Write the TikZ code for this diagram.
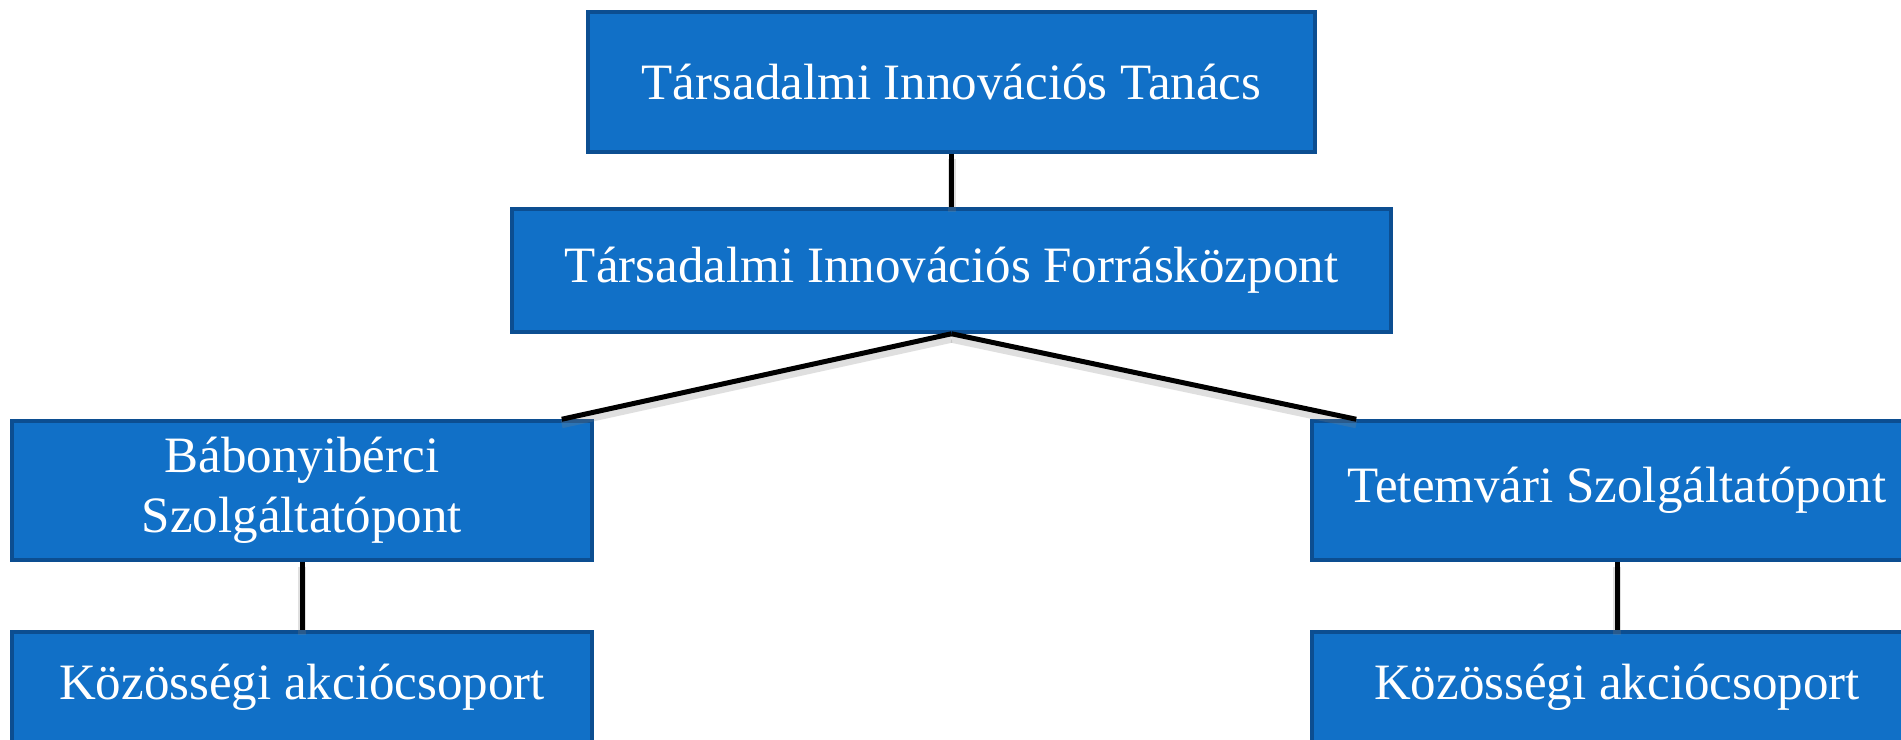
\documentclass[tikz,border=0pt]{standalone}
\usepackage{fontspec}
\setmainfont{Liberation Serif}
\usetikzlibrary{positioning}

\definecolor{orgfill}{RGB}{17,112,199}
\definecolor{orgedge}{RGB}{12,78,145}

\tikzset{
    orgbox/.style={draw=orgedge, fill=orgfill, line width=3.5pt, text=white,
        align=center, inner sep=0pt, font=\fontsize{51}{60}\selectfont},
    link/.style={line width=5pt, black,
        preaction={draw, gray, opacity=0.25, line width=8pt, transform canvas={yshift=-5pt}}}
}

\begin{document}
\begin{tikzpicture}[x=1pt, y=1pt]
    \useasboundingbox[fill=white] (0,0) rectangle (1901,-739);

    \node[orgbox, minimum width=727pt, minimum height=140pt] (tit) at (951.5,-82) {Társadalmi Innovációs Tanács};
    \node[orgbox, minimum width=879pt, minimum height=123pt] (tif) at (951.5,-270.5) {Társadalmi Innovációs Forrásközpont};
    \node[orgbox, minimum width=580pt, minimum height=139pt] (bsz) at (302,-490.5) {Bábonyibérci\\Szolgáltatópont};
    \node[orgbox, minimum width=610pt, minimum height=139pt] (tsz) at (1617,-490.5) {Tetemvári Szolgáltatópont};
    \node[orgbox, minimum width=580pt, minimum height=110pt] (bkas) at (302,-687) {Közösségi akciócsoport};
    \node[orgbox, minimum width=610pt, minimum height=110pt] (tkas) at (1617,-687) {Közösségi akciócsoport};

    \coordinate (bszin) at ([xshift=-32pt]bsz.north east);
    \coordinate (tszin) at ([xshift=46pt]tsz.north west);

    \draw[link] (tit) -- (tif);
    \draw[link] (tif.south) -- (bszin);
    \draw[link] (tif.south) -- (tszin);
    \draw[link] (bsz) -- (bkas);
    \draw[link] (tsz) -- (tkas);
\end{tikzpicture}
\end{document}
